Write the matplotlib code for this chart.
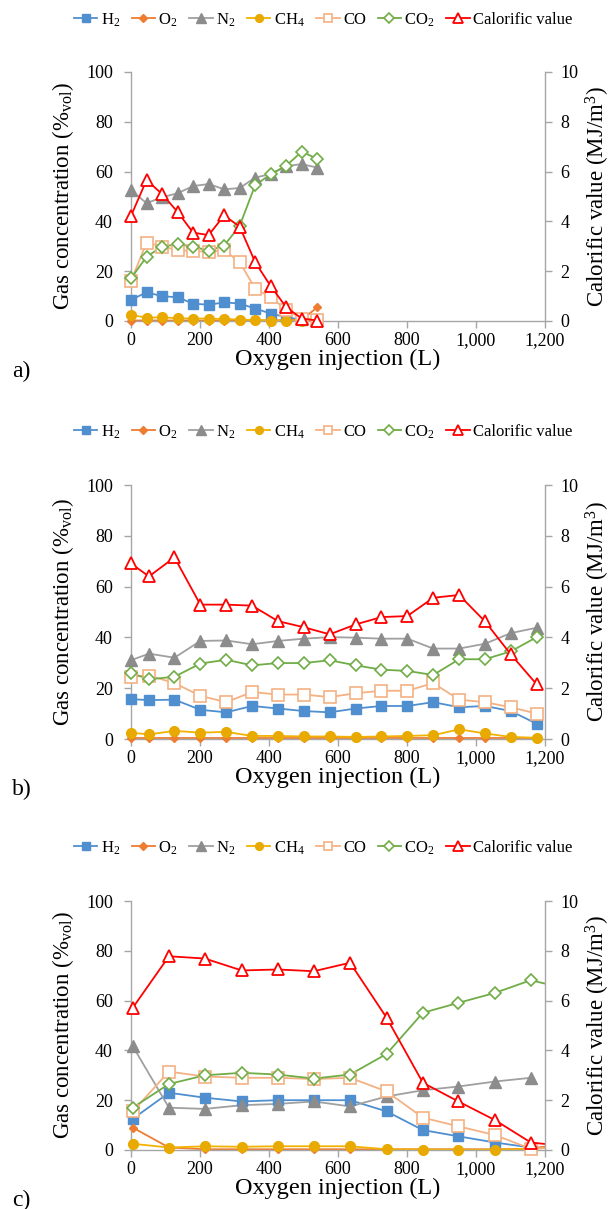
import matplotlib
matplotlib.use("Agg")
import matplotlib.pyplot as plt
from matplotlib.lines import Line2D
import numpy as np

plt.rcParams['font.family'] = ['Liberation Serif', 'DejaVu Serif']
plt.rcParams['mathtext.fontset'] = 'custom'
plt.rcParams['mathtext.rm'] = 'Liberation Serif'
plt.rcParams['mathtext.it'] = 'Liberation Serif:italic'
plt.rcParams['mathtext.default'] = 'regular'

# ---------------- data ----------------
# panel a
xa = [0, 45, 90, 135, 180, 225, 270, 315, 360, 405, 450, 495, 540]
h2_a = [8.5, 11.5, 10, 9.5, 7, 6.5, 7.5, 7, 5, 3, 1.5, 0.5, 0.3]
o2_a = [0.2, 0.2, 0.2, 0.2, 0.2, 0.2, 0.2, 0.2, 0.2, 0.3, 0.3, 0.5, 5.5]
n2_a = [52.6, 47.3, 49.7, 51.3, 54.2, 55.0, 52.9, 53.4, 57.6, 59.0, 62.2, 63.0, 61.6]
ch4_a = [2.5, 1.3, 1.5, 1.1, 1.0, 1.0, 0.8, 0.6, 0.4, 0.2, 0.2, 0.1, 0.0]
co_a = [16, 31.5, 29.9, 28.5, 28.1, 27.8, 28.5, 23.6, 13, 9.5, 4.5, 1, 0.5]
co2_a = [17.1, 25.8, 29.9, 30.8, 29.9, 28.2, 30.3, 38.2, 54.6, 58.9, 62.4, 68.0, 65.1]
cal_a = [4.22, 5.66, 5.10, 4.38, 3.55, 3.45, 4.24, 3.79, 2.36, 1.4, 0.55, 0.1, 0.02]

# panel b
xb = [0, 52, 126, 201, 276, 351, 426, 501, 576, 651, 726, 801, 876, 951, 1026, 1101, 1176]
h2_b = [15.7, 15.3, 15.5, 11.5, 10.5, 13, 12, 11, 10.5, 12, 13, 13, 14.5, 12.5, 13, 11, 6]
o2_b = [0.3] * 17
n2_b = [31.0, 33.6, 32.0, 38.6, 38.8, 37.3, 38.6, 39.5, 40.1, 39.9, 39.5, 39.5, 35.6, 35.6, 37.5, 41.7, 43.8]
ch4_b = [2.5, 1.8, 3.2, 2.5, 2.8, 1.2, 1.2, 1.0, 1.0, 0.8, 1.0, 1.2, 1.5, 3.8, 2.2, 0.8, 0.5]
co_b = [24.5, 25, 22, 17, 14.5, 18.5, 17.5, 17.5, 16.5, 18, 19, 19, 22, 15.5, 14.5, 12.5, 10]
co2_b = [26, 23.5, 24.5, 29.7, 31.2, 29.0, 29.9, 29.9, 31.0, 29.0, 27.3, 26.8, 25.2, 31.4, 31.4, 34.5, 40.1]
cal_b = [6.91, 6.40, 7.15, 5.29, 5.29, 5.25, 4.64, 4.40, 4.12, 4.51, 4.80, 4.84, 5.56, 5.67, 4.63, 3.33, 2.15]

# panel c (last x lies beyond the axis limit: the lines leave the plot there)
xc = [5, 110, 214, 321, 425, 530, 635, 741, 846, 949, 1055, 1159, 1230]
h2_c = [12.5, 23, 21, 19.5, 20, 20, 20, 15.5, 8, 5.5, 3, 1, 1]
o2_c = [9, 1, 0.3, 0.3, 0.3, 0.3, 0.3, 0.3, 0.3, 0.3, 0.3, 0.5, 2]
n2_c = [41.7, 17, 16.5, 18, 18.5, 19.5, 17.5, 21.5, 24, 25.5, 27.5, 29, np.nan]
ch4_c = [2.5, 1, 1.5, 1.3, 1.5, 1.5, 1.5, 0.3, 0.2, 0.1, 0.1, 0.5, 1]
co_c = [15.5, 31.5, 29.5, 29, 29, 28.5, 29, 23.5, 13, 9.5, 6, 0.5, 1]
co2_c = [17, 26.5, 30, 31, 30.3, 28.7, 30.3, 38.6, 55.1, 59.1, 63.1, 68.2, 65.8]
cal_c = [5.71, 7.78, 7.69, 7.21, 7.25, 7.18, 7.52, 5.31, 2.70, 1.95, 1.20, 0.30, 0.20]

xticks = [0, 200, 400, 600, 800, 1000, 1200]
xticklabels = ["0", "200", "400", "600", "800", "1,000", "1,200"]
labels = ["H$_2$", "O$_2$", "N$_2$", "CH$_4$", "CO", "CO$_2$", "Calorific value"]

# ---------------- styles ----------------
styles = [
    dict(color='#4F8FD0', marker='s', ms=6.5, mfc='#4F8FD0', mec='#4F8FD0'),
    dict(color='#ED7D31', marker='D', ms=4.5, mfc='#ED7D31', mec='#ED7D31'),
    dict(color='#A0A0A0', marker='^', ms=8.5, mfc='#8C8C8C', mec='#8C8C8C'),
    dict(color='#F2B200', marker='o', ms=7, mfc='#E8AA00', mec='#E8AA00'),
    dict(color='#F4B183', marker='s', ms=8, mfc='white', mec='#F4B183', mew=1.2),
    dict(color='#70AD47', marker='D', ms=6.5, mfc='white', mec='#70AD47', mew=1.2),
    dict(color='#FF0000', marker='^', ms=9, mfc='white', mec='#FF0000', mew=1.3),
]
LW = 1.3
SPINE = '#A6A6A6'

W, H = 611, 1209
fig = plt.figure(figsize=(W / 100, H / 100), dpi=100)

panels = [
    (xa, [h2_a, o2_a, n2_a, ch4_a, co_a, co2_a], cal_a, 72, 321, 20, 'a)'),
    (xb, [h2_b, o2_b, n2_b, ch4_b, co_b, co2_b], cal_b, 485, 739, 432, 'b)'),
    (xc, [h2_c, o2_c, n2_c, ch4_c, co_c, co2_c], cal_c, 901, 1150, 848, 'c)'),
]

L, R = 131, 545
for x, gases, cal, top, bot, legy, tag in panels:
    ax = fig.add_axes([L / W, 1 - bot / H, (R - L) / W, (bot - top) / H])
    ax2 = ax.twinx()
    x = np.asarray(x, float)
    inside = x <= 1200
    for ys, st in zip(gases, styles[:6]):
        ys = np.asarray(ys, float)
        ax.plot(x, ys, color=st['color'], lw=LW, zorder=2, clip_on=True)
        ax.plot(x[inside], ys[inside], ls='none', marker=st['marker'], ms=st['ms'],
                mfc=st['mfc'], mec=st['mec'], mew=st.get('mew', 1.0), zorder=3, clip_on=False)
    st = styles[6]
    cal = np.asarray(cal, float)
    ax2.plot(x, cal, color=st['color'], lw=LW, zorder=2, clip_on=True)
    ax2.plot(x[inside], cal[inside], ls='none', marker=st['marker'], ms=st['ms'],
             mfc=st['mfc'], mec=st['mec'], mew=st['mew'], zorder=3, clip_on=False)

    ax.set_xlim(0, 1200)
    ax.set_ylim(0, 100)
    ax2.set_ylim(0, 10)
    ax.set_xticks(xticks)
    ax.set_xticklabels(xticklabels)
    ax.set_yticks(range(0, 101, 20))
    ax2.set_yticks(range(0, 11, 2))
    for s in ['top', 'right']:
        ax.spines[s].set_visible(False)
    for s in ['top', 'left', 'bottom']:
        ax2.spines[s].set_visible(False)
    for a in (ax, ax2):
        for s in a.spines.values():
            s.set_color(SPINE)
            s.set_linewidth(1.0)
        a.tick_params(colors=SPINE, labelcolor='black', labelsize=13, length=5,
                      width=1.0, direction='out')
    ax.tick_params(axis='y', pad=8)
    ax2.tick_params(axis='y', pad=6)
    ax.tick_params(axis='x', pad=3)
    ax.set_xlabel("Oxygen injection (L)", fontsize=17.5, labelpad=0)
    ax.set_ylabel("Gas concentration (%$_{vol}$)", fontsize=16.5, labelpad=7)
    ax2.set_ylabel("Calorific value (MJ/m$^3$)", fontsize=16.5, labelpad=4)
    ax.set_facecolor('none')

    handles = [Line2D([], [], color=s['color'], lw=LW, marker=s['marker'], ms=s['ms'] * 0.8,
                      mfc=s['mfc'], mec=s['mec'], mew=s.get('mew', 1.0)) for s in styles]
    fig.legend(handles, labels, loc='center', bbox_to_anchor=(0.529, 1 - legy / H), ncol=7,
               frameon=False, fontsize=12, handlelength=1.4, handletextpad=0.2,
               columnspacing=0.7, borderaxespad=0, borderpad=0)
    fig.text(12 / W, 1 - (bot + 50) / H, tag, fontsize=17, ha='left', va='center')

fig.savefig("out.png", dpi=100)
